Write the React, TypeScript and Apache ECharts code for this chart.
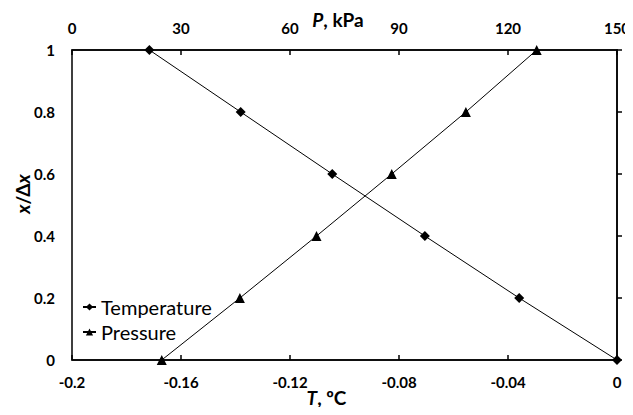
import React, { useEffect, useRef } from "react";
import * as echarts from "echarts";

const yFractions = [1, 0.8, 0.6, 0.4, 0.2, 0];
const temperatureC = [-0.1716, -0.1381, -0.1045, -0.0705, -0.0359, 0];
const pressureYFractions = [0, 0.2, 0.4, 0.6, 0.8, 1];
const pressureKPa = [24.7, 46.2, 67.3, 88.0, 108.4, 127.9];

const FONT = "Lato, 'Open Sans', sans-serif";

export default function App() {
  const ref = useRef<HTMLDivElement>(null);
  useEffect(() => {
    if (!ref.current) return;
    const chart = echarts.init(ref.current, null, { renderer: "svg" });
    const labelStyle = { color: "#000", fontFamily: FONT, fontWeight: "bold" as const, fontSize: 15 };
    const titleStyle = { ...labelStyle, fontSize: 19 };
    const axisLine = { show: true, lineStyle: { color: "#000", width: 1.5 } };
    const tick = { show: true, inside: true, length: 5, lineStyle: { color: "#000", width: 1.5 } };
    chart.setOption({
      animation: false,
      backgroundColor: "#fff",
      grid: {
        left: 72,
        right: 16,
        top: 50,
        bottom: 55,
        show: true,
        borderColor: "#000",
        borderWidth: 1.5,
        outerBoundsMode: "none",
        containLabel: false,
      },
      legend: {
        data: ["Temperature", "Pressure"],
        orient: "vertical",
        left: 77,
        top: 292,
        itemGap: 5,
        itemWidth: 13,
        itemHeight: 9,
        textStyle: { color: "#000", fontFamily: FONT, fontSize: 20 },
      },
      xAxis: [
        {
          type: "value",
          position: "bottom",
          min: -0.2,
          max: 0,
          interval: 0.04,
          axisLine,
          axisTick: tick,
          splitLine: { show: false },
          axisLabel: {
            ...labelStyle,
            margin: 14,
            formatter: (v: number) => String(+v.toFixed(2)),
          },
          name: "{i|T}, ºC",
          nameLocation: "middle",
          nameGap: 28,
          nameMoveOverlap: false,
          nameTextStyle: {
            ...titleStyle,
            padding: [0, 36, 0, 0],
            rich: { i: { ...titleStyle, fontStyle: "italic" } },
          },
        },
        {
          type: "value",
          position: "top",
          min: 0,
          max: 150,
          interval: 30,
          axisLine,
          axisTick: tick,
          splitLine: { show: false },
          axisLabel: { ...labelStyle, margin: 15 },
          name: "{i|P}, kPa",
          nameLocation: "middle",
          nameGap: 21,
          nameMoveOverlap: false,
          nameTextStyle: {
            ...titleStyle,
            padding: [0, 13, 0, 0],
            rich: { i: { ...titleStyle, fontStyle: "italic" } },
          },
        },
      ],
      yAxis: {
        type: "value",
        min: 0,
        max: 1,
        interval: 0.2,
        axisLine,
        axisTick: tick,
        splitLine: { show: false },
        axisLabel: { ...labelStyle, margin: 17, formatter: (v: number) => String(+v.toFixed(1)) },
        name: "{i|x}/Δ{i|x}",
        nameLocation: "middle",
        nameGap: 40,
        nameMoveOverlap: false,
        nameRotate: 90,
        nameTextStyle: {
          ...titleStyle,
          padding: [0, 0, 0, 22],
          rich: { i: { ...titleStyle, fontStyle: "italic" } },
        },
      },
      series: [
        {
          name: "Temperature",
          type: "line",
          xAxisIndex: 0,
          data: temperatureC.map((t, i) => [t, yFractions[i]]),
          symbol: "diamond",
          symbolSize: 10,
          itemStyle: { color: "#000" },
          lineStyle: { color: "#000", width: 1 },
        },
        {
          name: "Pressure",
          type: "line",
          xAxisIndex: 1,
          data: pressureKPa.map((p, i) => [p, pressureYFractions[i]]),
          symbol: "triangle",
          symbolSize: 10,
          itemStyle: { color: "#000" },
          lineStyle: { color: "#000", width: 1 },
        },
      ],
    });
    return () => chart.dispose();
  }, []);
  return <div ref={ref} style={{ width: 633, height: 415, margin: -8 }} />;
}
